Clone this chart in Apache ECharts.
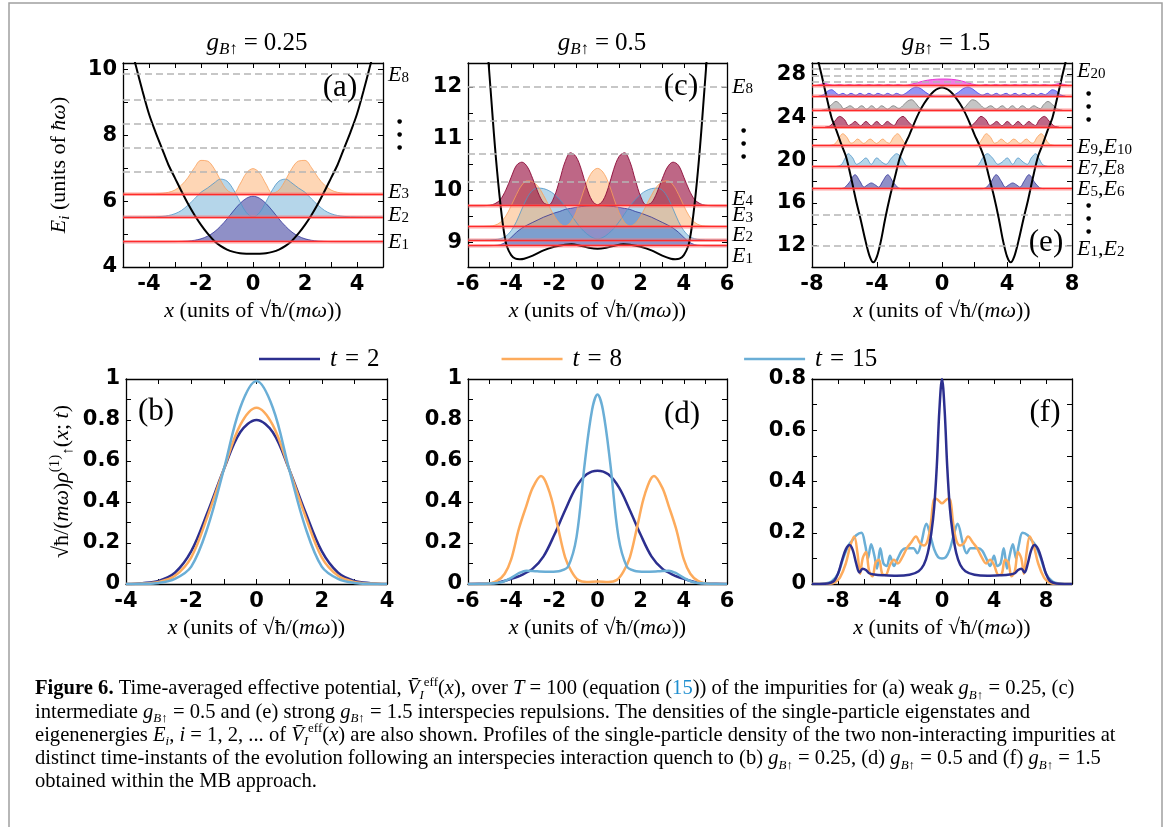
<!DOCTYPE html>
<html><head><meta charset="utf-8">
<script src="https://cdn.jsdelivr.net/npm/echarts@6/dist/echarts.min.js"></script>
<style>html,body{margin:0;padding:0;background:#fff}#c{width:1171px;height:827px}</style>
</head><body><div id="c"></div>
<script>
// ---------------- DATA ----------------
// Panel (a): g = 0.25
const aPotX = [-4.7,-4.5,-4.25,-4,-3.75,-3.5,-3.25,-3,-2.75,-2.5,-2.25,-2,-1.75,-1.5,-1.25,-1,-0.75,-0.5,-0.25,0,0.25,0.5,0.75,1,1.25,1.5,1.75,2,2.25,2.5,2.75,3,3.25,3.5,3.75,4,4.25,4.5,4.7];
const aPotY = [10.7,10.1,9.35,8.65,8.1,7.6,7.1,6.7,6.3,5.92,5.58,5.28,5.02,4.8,4.64,4.53,4.46,4.42,4.405,4.4,4.405,4.42,4.46,4.53,4.64,4.8,5.02,5.28,5.58,5.92,6.3,6.7,7.1,7.6,8.1,8.65,9.35,10.1,10.7];
const aX = [-5,-4.5,-4,-3.75,-3.5,-3.25,-3,-2.75,-2.5,-2.25,-2,-1.75,-1.5,-1.25,-1,-0.75,-0.5,-0.25,0,0.25,0.5,0.75,1,1.25,1.5,1.75,2,2.25,2.5,2.75,3,3.25,3.5,3.75,4,4.5,5];
const aRho1 = [0,0,0,0,0,0.001,0.002,0.008,0.018,0.042,0.087,0.167,0.29,0.47,0.69,0.936,1.16,1.32,1.38,1.32,1.16,0.936,0.69,0.47,0.29,0.167,0.087,0.042,0.018,0.008,0.002,0.001,0,0,0,0,0];
const aRho2 = [0,0.001,0.003,0.006,0.018,0.045,0.1,0.2,0.36,0.55,0.75,0.88,1.03,1.15,1.09,0.83,0.46,0.13,0,0.13,0.46,0.83,1.09,1.15,1.03,0.88,0.75,0.55,0.36,0.2,0.1,0.045,0.018,0.006,0.003,0.001,0];
const aRho3 = [0,0,0.002,0.005,0.02,0.05,0.12,0.27,0.5,0.8,1.02,1.0,0.78,0.42,0.12,0.02,0.3,0.64,0.77,0.64,0.3,0.02,0.12,0.42,0.78,1.0,1.02,0.8,0.5,0.27,0.12,0.05,0.02,0.005,0.002,0,0];
const aLevels = [4.77,5.52,6.22];
const aGray = [6.91,7.62,8.34,9.08,9.88];
const aRightVals = [4.74,5.56,6.28,8.03,9.82];
const aRightText = ['{i|E}{s|1}','{i|E}{s|2}','{i|E}{s|3}','dots','{i|E}{s|8}'];

// Panel (c): g = 0.5
const cPotX = [-5.1,-5,-4.9,-4.8,-4.7,-4.6,-4.5,-4.4,-4.3,-4.2,-4,-3.8,-3.6,-3.4,-3,-2.5,-2,-1.5,-1.2,-0.8,-0.4,0,0.4,0.8,1.2,1.5,2,2.5,3,3.4,3.6,3.8,4,4.2,4.3,4.4,4.5,4.6,4.7,4.8,4.9,5,5.1];
const cPotY = [12.75,12.2,11.65,11.1,10.6,10.15,9.75,9.4,9.12,8.93,8.76,8.69,8.68,8.69,8.75,8.85,8.92,8.96,8.97,8.94,8.9,8.88,8.9,8.94,8.97,8.96,8.92,8.85,8.75,8.69,8.68,8.69,8.76,8.93,9.12,9.4,9.75,10.15,10.6,11.1,11.65,12.2,12.75];
const cX = [-6,-5.75,-5.5,-5.25,-5,-4.75,-4.5,-4.25,-4,-3.75,-3.5,-3.25,-3,-2.75,-2.5,-2.25,-2,-1.75,-1.5,-1.25,-1,-0.75,-0.5,-0.25,0,0.25,0.5,0.75,1,1.25,1.5,1.75,2,2.25,2.5,2.75,3,3.25,3.5,3.75,4,4.25,4.5,4.75,5,5.25,5.5,5.75,6];
const cRho1 = [0,0,0,0,0.001,0.005,0.02,0.07,0.16,0.26,0.34,0.4,0.45,0.5,0.55,0.59,0.63,0.66,0.7,0.72,0.74,0.755,0.765,0.77,0.77,0.77,0.765,0.755,0.74,0.72,0.7,0.66,0.63,0.59,0.55,0.5,0.45,0.4,0.34,0.26,0.16,0.07,0.02,0.005,0.001,0,0,0,0];
const cRho2 = [0,0,0,0,0.002,0.008,0.025,0.07,0.18,0.36,0.6,0.82,0.96,1.0,0.99,0.95,0.88,0.78,0.65,0.5,0.35,0.22,0.12,0.05,0.02,0.05,0.12,0.22,0.35,0.5,0.65,0.78,0.88,0.95,0.99,1.0,0.96,0.82,0.6,0.36,0.18,0.07,0.025,0.008,0.002,0,0,0,0];
const cRho3 = [0,0,0,0.002,0.008,0.025,0.08,0.2,0.4,0.62,0.8,0.88,0.86,0.77,0.6,0.4,0.2,0.06,0.01,0.08,0.27,0.55,0.85,1.05,1.12,1.05,0.85,0.55,0.27,0.08,0.01,0.06,0.2,0.4,0.6,0.77,0.86,0.88,0.8,0.62,0.4,0.2,0.08,0.025,0.008,0.002,0,0,0];
const cRho4 = [0,0,0,0.002,0.01,0.04,0.12,0.3,0.55,0.78,0.84,0.75,0.52,0.25,0.06,0.02,0.18,0.5,0.85,1.02,0.95,0.7,0.35,0.1,0.02,0.1,0.35,0.7,0.95,1.02,0.85,0.5,0.18,0.02,0.06,0.25,0.52,0.75,0.84,0.78,0.55,0.3,0.12,0.04,0.01,0.002,0,0,0];
const cLevels = [8.94,9.05,9.31,9.71];
const cGray = [10.17,10.72,11.34,12.01];
const cRightVals = [8.73,9.15,9.53,9.84,10.92,12.0];
const cRightText = ['{i|E}{s|1}','{i|E}{s|2}','{i|E}{s|3}','{i|E}{s|4}','dots','{i|E}{s|8}'];

// Panel (e): g = 1.5
const ePotX = [-7.7,-7.4,-7.1,-6.8,-6.5,-6.2,-5.9,-5.6,-5.3,-5,-4.7,-4.45,-4.23,-4,-3.75,-3.5,-3.2,-2.9,-2.6,-2.3,-2,-1.7,-1.4,-1.1,-0.8,-0.5,-0.25,0,0.25,0.5,0.8,1.1,1.4,1.7,2,2.3,2.6,2.9,3.2,3.5,3.75,4,4.23,4.45,4.7,5,5.3,5.6,5.9,6.2,6.5,6.8,7.1,7.4,7.7];
const ePotY = [29.8,27.9,25.9,24,22.8,21.5,20.3,18.4,16.3,14.4,12.4,11,10.44,11,12.5,14.5,16.6,18.4,20.2,21.4,22.4,23.5,24.5,25.3,25.95,26.45,26.7,26.8,26.7,26.45,25.95,25.3,24.5,23.5,22.4,21.4,20.2,18.4,16.6,14.5,12.5,11,10.44,11,12.4,14.4,16.3,18.4,20.3,21.5,22.8,24,25.9,27.9,29.8];
const e1X = [-6.3,-6,-5.7,-5.35,-5.05,-4.8,-4.6,-4.35,-4.1,-3.9,-3.65,-3.34,-3,-2.7,-2.4,2.4,2.7,3,3.34,3.65,3.9,4.1,4.35,4.6,4.8,5.05,5.35,5.7,6,6.3];
const e1H = [0,0.1,0.6,1.31,0.7,0.15,0.35,0.54,0.35,0.15,0.7,1.31,0.6,0.1,0,0,0.1,0.6,1.31,0.7,0.15,0.35,0.54,0.35,0.15,0.7,1.31,0.6,0.1,0];
const e2X = [-6.5,-6.2,-5.95,-5.77,-5.5,-5.25,-5,-4.68,-4.35,-4.02,-3.7,-3.45,-3.1,-2.79,-2.5,-2.25,-2,2,2.25,2.5,2.79,3.1,3.45,3.7,4.02,4.35,4.68,5,5.25,5.5,5.77,5.95,6.2,6.5];
const e2H = [0,0.15,0.8,1.19,0.8,0.2,0.4,0.79,0.2,0.79,0.4,0.2,0.8,1.19,0.8,0.15,0,0,0.15,0.8,1.19,0.8,0.2,0.4,0.79,0.2,0.79,0.4,0.2,0.8,1.19,0.8,0.15,0];
const e3X = [-6.9,-6.6,-6.35,-6.11,-5.85,-5.6,-5.42,-5.2,-4.81,-4.42,-4.03,-3.64,-3.42,-3.24,-2.99,-2.73,-2.49,-2.24,-1.94,1.94,2.24,2.49,2.73,2.99,3.24,3.42,3.64,4.03,4.42,4.81,5.2,5.42,5.6,5.85,6.11,6.35,6.6,6.9];
const e3H = [0,0.12,0.65,1.09,0.75,0.2,0.3,0.59,0.18,0.59,0.18,0.59,0.3,0.2,0.75,1.09,0.65,0.12,0,0,0.12,0.65,1.09,0.75,0.2,0.3,0.59,0.18,0.59,0.18,0.59,0.3,0.2,0.75,1.09,0.65,0.12,0];
const e4X = [-7.2,-6.9,-6.6,-6.3,-6,-5.75,-5.55,-5.35,-5.01,-4.68,-4.35,-4.02,-3.69,-3.36,-3.15,-2.95,-2.7,-2.4,-2.1,-1.8,-1.5,1.5,1.8,2.1,2.4,2.7,2.95,3.15,3.36,3.69,4.02,4.35,4.68,5.01,5.35,5.55,5.75,6,6.3,6.6,6.9,7.2];
const e4H = [0,0.1,0.55,1,0.7,0.15,0.3,0.53,0.12,0.53,0.12,0.53,0.12,0.53,0.3,0.15,0.7,1,0.55,0.1,0,0,0.1,0.55,1,0.7,0.15,0.3,0.53,0.12,0.53,0.12,0.53,0.12,0.53,0.3,0.15,0.7,1,0.55,0.1,0];
const e5X = [-7.4,-7.1,-6.8,-6.52,-6.25,-6.05,-5.85,-5.66,-5.3,-4.94,-4.63,-4.33,-4.02,-3.71,-3.35,-3,-2.65,-2.35,-2.1,-1.87,-1.6,-1.35,-1.1,1.1,1.35,1.6,1.87,2.1,2.35,2.65,3,3.35,3.71,4.02,4.33,4.63,4.94,5.3,5.66,5.85,6.05,6.25,6.52,6.8,7.1,7.4];
const e5H = [0,0.1,0.5,0.8,0.5,0.12,0.25,0.4,0.08,0.4,0.08,0.4,0.08,0.4,0.08,0.4,0.15,0.5,0.85,0.96,0.6,0.15,0,0,0.15,0.6,0.96,0.85,0.5,0.15,0.4,0.08,0.4,0.08,0.4,0.08,0.4,0.08,0.4,0.25,0.12,0.5,0.8,0.5,0.1,0];
const e6X = [-7.6,-7.3,-7.05,-6.8,-6.55,-6.35,-6.1,-5.85,-5.6,-5.3,-5.05,-4.75,-4.5,-4.2,-3.95,-3.6,-3.35,-3.05,-2.8,-2.5,-2.2,-1.9,-1.6,-1.3,-1,-0.7,-0.4,0.4,0.7,1,1.3,1.6,1.9,2.2,2.5,2.8,3.05,3.35,3.6,3.95,4.2,4.5,4.75,5.05,5.3,5.6,5.85,6.1,6.35,6.55,6.8,7.05,7.3,7.6];
const e6H = [0,0.12,0.45,0.6,0.35,0.12,0.26,0.08,0.26,0.08,0.26,0.08,0.26,0.08,0.26,0.08,0.26,0.08,0.26,0.1,0.3,0.65,0.85,0.7,0.35,0.08,0,0,0.08,0.35,0.7,0.85,0.65,0.3,0.1,0.26,0.08,0.26,0.08,0.26,0.08,0.26,0.08,0.26,0.08,0.26,0.08,0.26,0.12,0.35,0.6,0.45,0.12,0];
const e7X = [-7.8,-7.5,-7.2,-6.9,-6.6,-6.3,-6,-5.7,-5.4,-5.1,-4.8,-4.5,-4.2,-3.9,-3.6,-3.3,-3,-2.7,-2.4,-2.1,-1.8,-1.5,-1.2,-0.9,-0.6,-0.3,0,0.3,0.6,0.9,1.2,1.5,1.8,2.1,2.4,2.7,3,3.3,3.6,3.9,4.2,4.5,4.8,5.1,5.4,5.7,6,6.3,6.6,6.9,7.2,7.5,7.8];
const e7H = [0,0.12,0.2,0.1,0.05,0.12,0.04,0.12,0.04,0.12,0.04,0.12,0.04,0.12,0.04,0.12,0.04,0.12,0.04,0.08,0.18,0.3,0.42,0.52,0.58,0.62,0.63,0.63,0.6,0.55,0.45,0.32,0.18,0.08,0.04,0.12,0.04,0.12,0.04,0.12,0.04,0.12,0.04,0.12,0.04,0.12,0.04,0.12,0.05,0.1,0.2,0.12,0];
const eLevels = [17.33,19.42,21.39,23.1,24.7,26.0,26.97];
const eGray = [12.0,14.9,27.35,27.93,28.53];
const eRightVals = [11.63,14.59,17.24,19.27,21.2,25.03,28.31];
const eRightText = ['{i|E}{s|1}{n|,}{i|E}{s|2}','dots','{i|E}{s|5}{n|,}{i|E}{s|6}','{i|E}{s|7}{n|,}{i|E}{s|8}','{i|E}{s|9}{n|,}{i|E}{s|10}','dots','{i|E}{s|20}'];

// Panel (b): g = 0.25 densities
const bX = [-4,-3.5,-3,-2.5,-2,-1.5,-1,-0.5,0,0.5,1,1.5,2,2.5,3,3.5,4];
const bT2 = [0,0.004,0.015,0.055,0.16,0.35,0.56,0.74,0.8,0.74,0.56,0.35,0.16,0.055,0.015,0.004,0];
const bT8 = [0,0.002,0.01,0.04,0.13,0.33,0.56,0.775,0.86,0.775,0.56,0.33,0.13,0.04,0.01,0.002,0];
const bT15 = [0,0.001,0.005,0.025,0.085,0.275,0.56,0.86,0.99,0.86,0.56,0.275,0.085,0.025,0.005,0.001,0];

// Panel (d): g = 0.5 densities
const dNavyX = [-6,-5.5,-5,-4.5,-4,-3.5,-3,-2.5,-2,-1.5,-1,-0.5,0,0.5,1,1.5,2,2.5,3,3.5,4,4.5,5,5.5,6];
const dNavy = [0,0.001,0.003,0.01,0.025,0.045,0.075,0.135,0.24,0.36,0.47,0.535,0.553,0.535,0.47,0.36,0.24,0.135,0.075,0.045,0.025,0.01,0.003,0.001,0];
const dOrX = [-6,-5,-4.65,-4.3,-4,-3.64,-3.3,-3,-2.62,-2.2,-1.84,-1.5,-1.2,-0.9,-0.5,0,0.5,0.9,1.2,1.5,1.84,2.2,2.62,3,3.3,3.64,4,4.3,4.65,5,6];
const dOr = [0,0.003,0.015,0.05,0.12,0.27,0.38,0.47,0.527,0.44,0.28,0.13,0.06,0.02,0.01,0.012,0.01,0.02,0.06,0.13,0.28,0.44,0.527,0.47,0.38,0.27,0.12,0.05,0.015,0.003,0];
const dBlX = [-6,-5,-4.4,-4,-3.6,-3.3,-2.8,-2.2,-1.7,-1.36,-0.97,-0.59,-0.25,0,0.25,0.59,0.97,1.36,1.7,2.2,2.8,3.3,3.6,4,4.4,5,6];
const dBl = [0,0.002,0.01,0.03,0.055,0.065,0.062,0.06,0.065,0.085,0.23,0.59,0.85,0.924,0.85,0.59,0.23,0.085,0.065,0.06,0.062,0.065,0.055,0.03,0.01,0.002,0];

// Panel (f): g = 1.5 densities
const fNavyX = [-10,-9,-8.6,-8.3,-8,-7.7,-7.4,-7.1,-6.85,-6.6,-6.35,-6.1,-5.85,-5.6,-5.2,-4.5,-3.5,-2.5,-1.8,-1.4,-1.1,-0.82,-0.6,-0.4,-0.2,0,0.2,0.4,0.6,0.82,1.1,1.4,1.8,2.5,3.5,4.5,5.2,5.6,5.85,6.1,6.35,6.6,6.85,7.1,7.4,7.7,8,8.3,8.6,9,10];
const fNavy = [0,0.001,0.004,0.012,0.04,0.09,0.135,0.152,0.13,0.08,0.045,0.06,0.055,0.042,0.037,0.034,0.032,0.036,0.05,0.075,0.12,0.2,0.3,0.46,0.68,0.8,0.68,0.46,0.3,0.2,0.12,0.075,0.05,0.036,0.032,0.034,0.037,0.042,0.055,0.06,0.045,0.08,0.13,0.152,0.135,0.09,0.04,0.012,0.004,0.001,0];
const fOrX = [-10,-8.6,-8.2,-7.85,-7.4,-7.05,-6.75,-6.5,-6.3,-6.1,-5.85,-5.6,-5.35,-5.1,-4.85,-4.6,-4.35,-4,-3.7,-3.4,-3,-2.7,-2.4,-2,-1.7,-1.4,-1.1,-0.85,-0.65,-0.45,-0.25,0,0.25,0.45,0.65,0.85,1.1,1.4,1.7,2,2.4,2.7,3,3.4,3.7,4,4.35,4.6,4.85,5.1,5.35,5.6,5.85,6.1,6.3,6.5,6.75,7.05,7.4,7.85,8.2,8.6,10];
const fOr = [0,0.001,0.008,0.025,0.08,0.15,0.185,0.12,0.04,0.1,0.125,0.05,0.03,0.085,0.095,0.04,0.035,0.075,0.095,0.08,0.11,0.14,0.16,0.185,0.16,0.15,0.17,0.24,0.325,0.333,0.325,0.315,0.325,0.333,0.325,0.24,0.17,0.15,0.16,0.185,0.16,0.14,0.11,0.08,0.095,0.075,0.035,0.04,0.095,0.085,0.03,0.05,0.125,0.1,0.04,0.12,0.185,0.15,0.08,0.025,0.008,0.001,0];
const fBlX = [-10,-9,-8.5,-8,-7.6,-7.2,-6.9,-6.6,-6.2,-5.9,-5.7,-5.45,-5.2,-5,-4.75,-4.5,-4.25,-4,-3.7,-3.4,-3.1,-2.8,-2.5,-2.2,-1.9,-1.6,-1.2,-0.9,-0.6,-0.3,0,0.3,0.6,0.9,1.2,1.6,1.9,2.2,2.5,2.8,3.1,3.4,3.7,4,4.25,4.5,4.75,5,5.2,5.45,5.7,5.9,6.2,6.6,6.9,7.2,7.6,8,8.5,9,10];
const fBl = [0,0.002,0.01,0.04,0.1,0.15,0.17,0.19,0.2,0.15,0.1,0.155,0.11,0.06,0.14,0.08,0.07,0.11,0.07,0.1,0.13,0.14,0.14,0.14,0.12,0.16,0.235,0.19,0.135,0.105,0.1,0.105,0.135,0.19,0.235,0.16,0.12,0.14,0.14,0.14,0.13,0.1,0.07,0.11,0.07,0.08,0.14,0.06,0.11,0.155,0.1,0.15,0.2,0.19,0.17,0.15,0.1,0.04,0.01,0.002,0];

// Tick values / labels
const aXTicks = [-4,-3,-2,-1,0,1,2,3,4], aXLabels = [-4,-2,0,2,4];
const aYTicks = [5,6,7,8,9,10], aYLabels = [4,6,8,10];
const cXTicks = [-5,-4,-3,-2,-1,0,1,2,3,4,5], cXLabels = [-6,-4,-2,0,2,4,6];
const cYTicks = [9,9.5,10,10.5,11,11.5,12], cYLabels = [9,10,11,12];
const eXTicks = [-6,-4,-2,0,2,4,6], eXLabels = [-8,-4,0,4,8];
const eYTicks = [12,14,16,18,20,22,24,26,28], eYLabels = [12,16,20,24,28];
const bXTicks = [-3,-2,-1,0,1,2,3], bXLabels = [-4,-2,0,2,4];
const dXTicks = [-5,-4,-3,-2,-1,0,1,2,3,4,5], dXLabels = [-6,-4,-2,0,2,4,6];
const fXTicks = [-8,-6,-4,-2,0,2,4,6,8], fXLabels = [-8,-4,0,4,8];
const rhoYTicks = [0.1,0.2,0.3,0.4,0.5,0.6,0.7,0.8,0.9], rhoYLabels = [0,0.2,0.4,0.6,0.8,1];
const fYTicks = [0.1,0.2,0.3,0.4,0.5,0.6,0.7], fYLabels = [0,0.2,0.4,0.6,0.8];

const legendNames = ['t = 2','t = 8','t = 15'];
const titles = ['0.25','0.5','1.5'];

// ---------------- STYLE / BUILD ----------------
const SERIF = '"Liberation Serif","DejaVu Serif",serif';
const SANS = '"DejaVu Sans",sans-serif';
const C_NAVY = '#2c2f8f', C_OR = '#fdab5c', C_LB = '#6aaed6';
const RADICAND = 'ħ/({i|mω})';
const XNAME = '{i|x} (units of √' + RADICAND + ')';

const option = {animation:false, backgroundColor:'#fff', grid:[], xAxis:[], yAxis:[], series:[]};
const nameRich = {
  i:{fontFamily:SERIF, fontStyle:'italic', fontSize:22, lineHeight:28},
  s:{fontFamily:SERIF, fontStyle:'italic', fontSize:15, lineHeight:15, verticalAlign:'bottom'},
  sp:{fontFamily:SERIF, fontSize:15, lineHeight:15, verticalAlign:'top'},
  sb:{fontFamily:SERIF, fontSize:15, lineHeight:15, verticalAlign:'bottom'}
};
const rightRich = {
  i:{fontFamily:SERIF, fontStyle:'italic', fontSize:22, lineHeight:20, color:'#000'},
  s:{fontFamily:SERIF, fontSize:15, lineHeight:10, verticalAlign:'bottom', color:'#000'},
  n:{fontFamily:SERIF, fontSize:22, lineHeight:20, color:'#000'},
  d:{fontFamily:SANS, fontSize:6, lineHeight:13, padding:[0,0,0,9], color:'#000'}
};
const fmt = v => String(Math.round(v*100)/100);

function panel(g, rect, c) {
  option.grid.push({left:rect[0], top:rect[1], width:rect[2], height:rect[3]});
  const line = {show:true, onZero:false, lineStyle:{color:'#000', width:1.3}};
  const tick = {show:true, inside:true, length:5, lineStyle:{color:'#000', width:1}};
  const lab = {fontFamily:SANS, fontWeight:'bold', fontSize:21, color:'#000', formatter:fmt, hideOverlap:false};
  option.xAxis.push({gridIndex:g, type:'value', min:c.xr[0], max:c.xr[1], position:'bottom',
    axisLine:line, axisTick:Object.assign({customValues:c.xt}, tick),
    axisLabel:Object.assign({customValues:c.xl, margin:7}, lab), splitLine:{show:false},
    name:XNAME, nameLocation:'middle', nameGap:30,
    nameTextStyle:{fontFamily:SERIF, fontSize:22, color:'#000', lineHeight:28, rich:nameRich}});
  option.xAxis.push({gridIndex:g, type:'value', min:c.xr[0], max:c.xr[1], position:'top',
    axisLine:line, axisTick:Object.assign({customValues:c.xt}, tick), axisLabel:{show:false}, splitLine:{show:false}});
  const yl = {gridIndex:g, type:'value', min:c.yr[0], max:c.yr[1], position:'left',
    axisLine:line, axisTick:Object.assign({customValues:c.yt}, tick),
    axisLabel:Object.assign({customValues:c.yl, margin:6}, lab), splitLine:{show:false}};
  if (c.yName) Object.assign(yl, {name:c.yName, nameLocation:'middle', nameGap:c.yGap, nameRotate:90,
    nameTextStyle:{fontFamily:SERIF, fontSize:22, color:'#000', lineHeight:28, rich:nameRich}});
  option.yAxis.push(yl);
  const yr = {gridIndex:g, type:'value', min:c.yr[0], max:c.yr[1], position:'right',
    axisLine:line, axisTick:Object.assign({customValues:c.yt}, tick), splitLine:{show:false},
    axisLabel:{show:false}};
  if (c.rv) {
    yr.axisLabel = {show:true, customValues:c.rv, margin:5, hideOverlap:false, fontFamily:SERIF, fontSize:22, lineHeight:20, color:'#000', rich:rightRich,
      formatter:(v)=>{ const k = c.rv.findIndex(u=>Math.abs(u-v)<1e-6); const t = c.rt[k];
        return t==='dots' ? '{d|●}\n{d|●}\n{d|●}' : t; }};
  }
  option.yAxis.push(yr);
}

function density(g, xs, hs, base, fill, stroke) {
  option.series.push({type:'line', xAxisIndex:2*g, yAxisIndex:2*g, silent:true, symbol:'none', smooth:0.35,
    data: xs.map((x,i)=>[x, base+hs[i]]), lineStyle:{color:stroke, width:1},
    areaStyle:{color:fill, opacity:1, origin:base}, z:2});
}
function potential(g, xs, ys, red, gray) {
  const ml = [];
  gray.forEach(v=>ml.push({yAxis:v, lineStyle:{color:'#b5b5b5', width:1.6, type:[7,4]}}));
  red.forEach(v=>{ ml.push({yAxis:v, lineStyle:{color:'rgba(255,120,120,0.35)', width:4, type:'solid'}});
                   ml.push({yAxis:v, lineStyle:{color:'#ff2b2b', width:1.3, type:'solid'}}); });
  option.series.push({type:'line', xAxisIndex:2*g, yAxisIndex:2*g, silent:true, symbol:'none', smooth:0.3,
    data: xs.map((x,i)=>[x, ys[i]]), lineStyle:{color:'#000', width:2}, z:4,
    markLine:{silent:true, symbol:'none', label:{show:false}, animation:false, data:ml}});
}
function curve(g, name, xs, ys, color) {
  option.series.push({type:'line', name, xAxisIndex:2*g, yAxisIndex:2*g, symbol:'none', smooth:0.35,
    data: xs.map((x,i)=>[x, ys[i]]), lineStyle:{color, width:2.5}, itemStyle:{color}, z:3});
}

const F = {
  navy:['rgba(31,34,144,0.5)','rgba(31,34,144,0.7)'],
  lb:['rgba(107,174,214,0.5)','rgba(80,150,200,0.8)'],
  or:['rgba(253,174,107,0.5)','rgba(250,160,90,0.8)'],
  cr:['rgba(150,10,60,0.62)','rgba(140,10,55,0.9)'],
  gr:['rgba(140,140,140,0.5)','rgba(120,120,120,0.8)'],
  bl:['rgba(60,60,235,0.55)','rgba(60,60,235,0.8)'],
  mg:['rgba(230,40,210,0.6)','rgba(230,40,210,0.9)']
};

const EI_NAME = '{i|E}{s|i} (units of {i|ħω})';
const RHO_NAME = '√' + RADICAND + '{i|ρ}{sp|(1)}{sb|↑}({i|x}; {i|t})';

panel(0,[123,63,260,204],{xr:[-5,5],xt:aXTicks,xl:aXLabels,yr:[4,10.2],yt:aYTicks,yl:aYLabels,rv:aRightVals,rt:aRightText,yName:EI_NAME,yGap:50});
panel(1,[468,63,259,204],{xr:[-6,6],xt:cXTicks,xl:cXLabels,yr:[8.53,12.46],yt:cYTicks,yl:cYLabels,rv:cRightVals,rt:cRightText});
panel(2,[812,63,260,204],{xr:[-8,8],xt:eXTicks,xl:eXLabels,yr:[10,29.1],yt:eYTicks,yl:eYLabels,rv:eRightVals,rt:eRightText});
panel(3,[126,379,261,205],{xr:[-4,4],xt:bXTicks,xl:bXLabels,yr:[0,1],yt:rhoYTicks,yl:rhoYLabels,yName:RHO_NAME,yGap:50});
panel(4,[468,379,259,205],{xr:[-6,6],xt:dXTicks,xl:dXLabels,yr:[0,1],yt:rhoYTicks,yl:rhoYLabels});
panel(5,[812,379,260,205],{xr:[-10,10],xt:fXTicks,xl:fXLabels,yr:[0,0.8],yt:fYTicks,yl:fYLabels});

density(0,aX,aRho1,aLevels[0],...F.navy);
density(0,aX,aRho2,aLevels[1],...F.lb);
density(0,aX,aRho3,aLevels[2],...F.or);
potential(0,aPotX,aPotY,aLevels,aGray);
density(1,cX,cRho1,cLevels[0],...F.navy);
density(1,cX,cRho2,cLevels[1],...F.lb);
density(1,cX,cRho3,cLevels[2],...F.or);
density(1,cX,cRho4,cLevels[3],...F.cr);
potential(1,cPotX,cPotY,cLevels,cGray);
density(2,e1X,e1H,eLevels[0],...F.navy);
density(2,e2X,e2H,eLevels[1],...F.lb);
density(2,e3X,e3H,eLevels[2],...F.or);
density(2,e4X,e4H,eLevels[3],...F.cr);
density(2,e5X,e5H,eLevels[4],...F.gr);
density(2,e6X,e6H,eLevels[5],...F.bl);
density(2,e7X,e7H,eLevels[6],...F.mg);
potential(2,ePotX,ePotY,eLevels,eGray);
curve(3,legendNames[0],bX,bT2,C_NAVY);
curve(3,legendNames[1],bX,bT8,C_OR);
curve(3,legendNames[2],bX,bT15,C_LB);
curve(4,legendNames[0],dNavyX,dNavy,C_NAVY);
curve(4,legendNames[1],dOrX,dOr,C_OR);
curve(4,legendNames[2],dBlX,dBl,C_LB);
curve(5,legendNames[2],fBlX,fBl,C_LB);
curve(5,legendNames[1],fOrX,fOr,C_OR);
curve(5,legendNames[0],fNavyX,fNavy,C_NAVY);

option.legend = {data:legendNames, left:254, top:340, itemWidth:61, itemHeight:2.5, itemGap:122, icon:'rect',
  selectedMode:false,
  formatter: n => n.replace('t = ','{i|t}{e|=}'),
  textStyle:{fontFamily:SERIF, fontSize:25, color:'#000', lineHeight:28, padding:[0,0,0,5],
    rich:{i:{fontFamily:SERIF, fontStyle:'italic', fontSize:25, lineHeight:28},
          e:{fontFamily:SERIF, fontSize:25, lineHeight:28, padding:[0,8,0,8]}}}};

const titleRich = {i:{fontFamily:SERIF, fontStyle:'italic', fontSize:25, lineHeight:30},
  s:{fontFamily:SERIF, fontStyle:'italic', fontSize:17, lineHeight:17, verticalAlign:'bottom'},
  e:{fontFamily:SERIF, fontSize:25, lineHeight:30, padding:[0,6,0,6]}};
const G = [];
G.push({type:'rect', shape:{x:9,y:3,width:1153,height:900}, style:{fill:'none', stroke:'#a0a0a0', lineWidth:1.5}, silent:true});
[257,602,946].forEach((cx,k)=>G.push({type:'text', x:cx, y:43, style:{text:'{i|g}{s|B↑}{e|=}'+titles[k], rich:titleRich,
  fontFamily:SERIF, fontSize:25, lineHeight:30, fill:'#000', align:'center', verticalAlign:'middle'}}));
[['(a)',340,88],['(c)',681,87],['(e)',1046,243],['(b)',156,412],['(d)',682,415],['(f)',1045,413]].forEach(l=>
  G.push({type:'text', x:l[1], y:l[2], z:10, style:{text:l[0], fontFamily:SERIF, fontSize:31, fill:'#000', align:'center', verticalAlign:'middle'}}));
const capRich = {
  b:{fontFamily:SERIF, fontWeight:'bold', fontSize:20.6, lineHeight:26},
  i:{fontFamily:SERIF, fontStyle:'italic', fontSize:20.6, lineHeight:26},
  s:{fontFamily:SERIF, fontStyle:'italic', fontSize:13, lineHeight:13, verticalAlign:'bottom'},
  u:{fontFamily:SERIF, fontSize:13, lineHeight:13, verticalAlign:'top'},
  l:{fontFamily:SERIF, fontSize:20.6, lineHeight:26, fill:'#1f8fd0'}
};
const VEFF = '{i|V\u0304}{s|I}{u|eff}({i|x})';
const GB = '{i|g}{s|B↑}';
const capLines = [
  '{b|Figure 6.} Time-averaged effective potential, '+VEFF+', over {i|T} = 100 (equation ({l|15})) of the impurities for (a) weak '+GB+' = 0.25, (c)',
  'intermediate '+GB+' = 0.5 and (e) strong '+GB+' = 1.5 interspecies repulsions. The densities of the single-particle eigenstates and',
  'eigenenergies {i|E}{s|i}, {i|i} = 1, 2, ... of '+VEFF+' are also shown. Profiles of the single-particle density of the two non-interacting impurities at',
  'distinct time-instants of the evolution following an interspecies interaction quench to (b) '+GB+' = 0.25, (d) '+GB+' = 0.5 and (f) '+GB+' = 1.5',
  'obtained within the MB approach.'
];
capLines.forEach((t,k)=>G.push({type:'text', x:35, y:689+23.2*k, style:{text:t, rich:capRich, fontFamily:SERIF, fontSize:20.6, lineHeight:26,
  fill:'#000', align:'left', verticalAlign:'middle'}}));
option.graphic = {elements:G};

const chart = echarts.init(document.getElementById('c'), null, {renderer:'canvas', width:1171, height:827});
chart.setOption(option);
</script></body></html>
